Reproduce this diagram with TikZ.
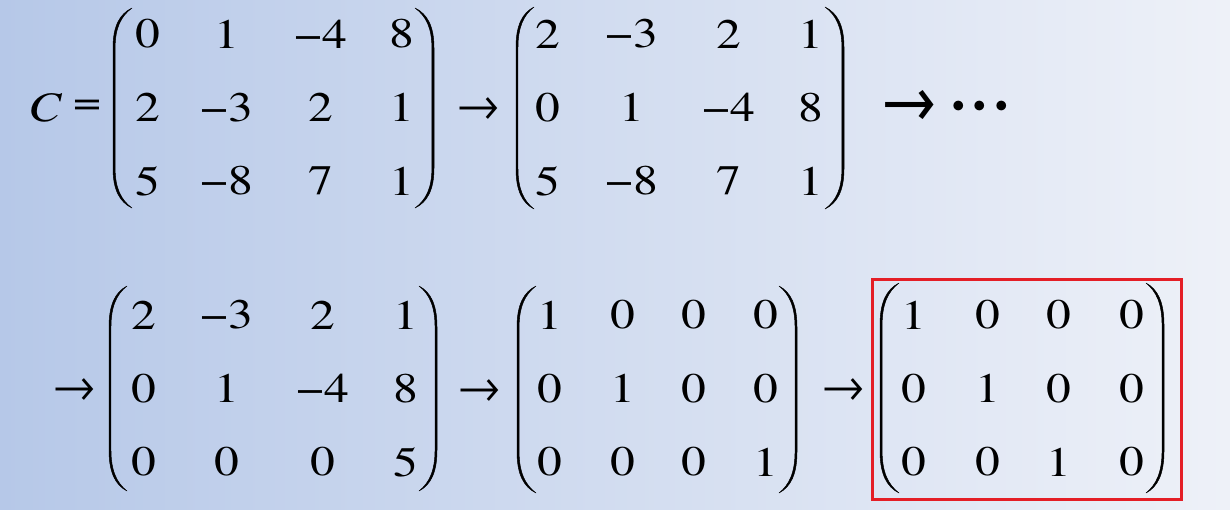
\documentclass[tikz,border=0pt]{standalone}
\usepackage{fontspec}
\setmainfont{texgyretermes}[Extension = .otf, UprightFont = *-regular, ItalicFont = *-italic,
    BoldFont = *-bold, BoldItalicFont = *-bolditalic]
\usetikzlibrary{positioning}

\definecolor{bgleft}{RGB}{182,200,232}
\definecolor{bgmid}{RGB}{209,220,240}
\definecolor{bgright}{RGB}{238,241,248}
\definecolor{boxred}{RGB}{228,30,38}

\newcommand{\wide}[1]{\scalebox{1.18}[1]{#1}} % растянутый текст

\tikzset{
    entry/.style = {inner sep = 0pt, font = \fontsize{42}{50}\selectfont},
    arr/.style = {inner sep = 0pt, font = \fontsize{44}{50}\selectfont},
    lparen/.pic = {\filldraw [line width = 0.5pt] (1, 0) .. controls (0.35, 0.03) and (0, 0.09) .. (0, 0.2) -- (0, 0.8)
        .. controls (0, 0.91) and (0.35, 0.97) .. (1, 1)
        .. controls (0.42, 0.96) and (0.11, 0.9) .. (0.11, 0.8) -- (0.11, 0.2)
        .. controls (0.11, 0.1) and (0.42, 0.04) .. (1, 0) -- cycle;}
}

% #1 - имя, #2 - x столбцов, #3 - y строк, #4 - элементы по строкам
\newcommand{\putmatrix}[4]{%
    \foreach \row [count = \r] in {#4} {
        \foreach \e [count = \c] in \row {
            \pgfmathsetmacro{\xx}{{#2}[\c - 1]}
            \pgfmathsetmacro{\yy}{{#3}[\r - 1]}
            \node [entry] (#1-\r-\c) at (\xx, \yy) {\wide{\e}};
        }
    }%
}

\begin{document}
\begin{tikzpicture}[x = 1pt, y = -1pt]
    \useasboundingbox (0, 0) rectangle (1230, 509);
    \shade [left color = bgleft, middle color = bgmid, right color = bgright] (0, 0) rectangle (1230, 509); % Фон

    % Первая строка
    \node [entry] (C) at (45, 107.5) {\wide{\itshape C}};
    \node [entry] (eq) at (87, 107.5) {\wide{=}};
    \putmatrix{A}{148, 227, 321, 402}{34, 107.5, 181}{{0, 1, −4, 8}, {2, −3, 2, 1}, {5, −8, 7, 1}}
    \pic [xscale = 19, yscale = 200] at (113, 8) {lparen};
    \pic [xscale = -19, yscale = 200] at (434, 8) {lparen};

    \node [arr] (s1) at (478, 109) {→};

    \putmatrix{B}{548, 632, 729, 811}{34, 107.5, 181}{{2, −3, 2, 1}, {0, 1, −4, 8}, {5, −8, 7, 1}}
    \pic [xscale = 18, yscale = 202] at (516, 7) {lparen};
    \pic [xscale = -19, yscale = 202] at (844, 7) {lparen};

    \node [arr, font = \fontsize{58}{60}\bfseries] (s2) at (909, 105) {→};
    \node [arr, font = \fontsize{58}{60}\bfseries] (dots) at (980, 111) {·\hspace{7pt}·\hspace{7pt}·};

    % Вторая строка
    \node [arr] (s3) at (74.5, 390) {→};

    \putmatrix{D}{144, 227, 323, 406}{315, 388.5, 462}{{2, −3, 2, 1}, {0, 1, −4, 8}, {0, 0, 0, 5}}
    \pic [xscale = 18, yscale = 205] at (109, 286) {lparen};
    \pic [xscale = -18, yscale = 205] at (437, 286) {lparen};

    \node [arr] (s4) at (479.5, 391) {→};

    \putmatrix{E}{550, 623, 694, 766}{315, 388.5, 462}{{1, 0, 0, 0}, {0, 1, 0, 0}, {0, 0, 0, 1}}
    \pic [xscale = 19, yscale = 207] at (517, 286) {lparen};
    \pic [xscale = -18, yscale = 207] at (797, 286) {lparen};

    \node [arr] (s5) at (843.5, 390) {→};

    \putmatrix{F}{914, 988, 1059, 1132}{315, 388.5, 462}{{1, 0, 0, 0}, {0, 1, 0, 0}, {0, 0, 1, 0}}
    \pic [xscale = 19, yscale = 210] at (880, 283) {lparen};
    \pic [xscale = -18, yscale = 210] at (1164, 283) {lparen};

    \draw [boxred, line width = 3pt] (872, 279) rectangle (1181, 499); % Ответ
\end{tikzpicture}
\end{document}
